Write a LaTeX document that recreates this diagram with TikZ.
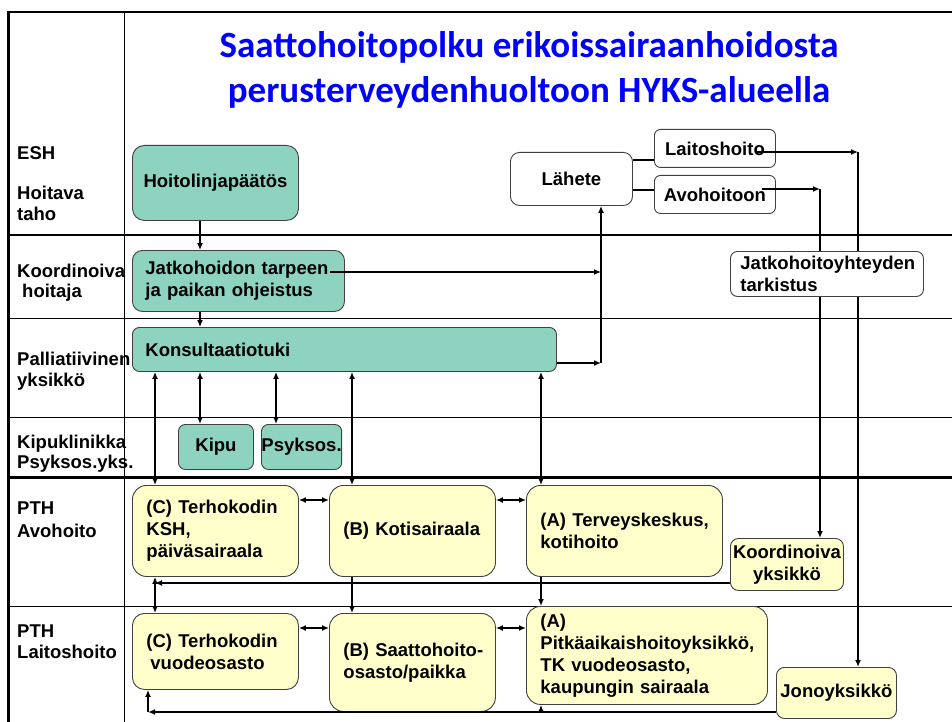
\documentclass[tikz,border=0pt]{standalone}
\usepackage{fontspec}
\setmainfont{Liberation Sans}
\newfontfamily\titlefont{Carlito}
\usetikzlibrary{arrows.meta,calc}
\definecolor{tealfill}{RGB}{141,211,192}
\definecolor{yelfill}{RGB}{255,255,204}
\definecolor{boxline}{RGB}{64,64,64}
\definecolor{titleblue}{RGB}{0,0,255}
\newcommand{\myfont}{\fontsize{18.5}{22}\selectfont\bfseries\hyphenpenalty=10000\relax\exhyphenpenalty=10000\relax}
\begin{document}
\begin{tikzpicture}[x=1pt,y=-1pt,
  every node/.style={font=\myfont},
  box/.style={draw=boxline, line width=0.9pt, inner sep=0pt, anchor=north west},
  tealbox/.style={box, fill=tealfill},
  yelbox/.style={box, fill=yelfill},
  whitebox/.style={box, fill=white},
  wh/.style 2 args={minimum width=#1pt, minimum height=#2pt},
  lab/.style={anchor=base west, inner sep=0pt},
  ttl/.style={anchor=base, inner sep=0pt, text=titleblue, font=\titlefont\fontsize{37}{44}\selectfont\bfseries},
  arr/.style={-{Latex[length=7pt,width=6pt]}, line width=1.6pt},
  darr/.style={{Latex[length=7pt,width=6pt]}-{Latex[length=7pt,width=6pt]}, line width=1.6pt},
  plain/.style={line width=1.6pt},
  thinrule/.style={line width=1pt},
]
\useasboundingbox (0,0) rectangle (952,722);
\fill[white] (0,0) rectangle (952,722);

% frame and lane rules
\draw[line width=2pt] (8,12) -- (952,12);
\draw[line width=3pt] (8,11) -- (8,722);
\draw[thinrule] (124,12) -- (124,722);
\draw[line width=2pt] (8,235) -- (952,235);
\draw[thinrule] (8,318) -- (952,318);
\draw[thinrule] (8,417) -- (952,417);
\draw[line width=3pt] (8,477) -- (952,477);
\draw[thinrule] (8,606) -- (952,606);

% title
\node[ttl] (t1) at (529,58) {Saattohoitopolku erikoissairaanhoidosta};
\node[ttl] (t2) at (529,103) {perusterveydenhuoltoon HYKS-alueella};

% lane labels
\node[lab] (l1) at (17,160) {ESH};
\node[lab] (l2) at (17,199) {Hoitava};
\node[lab] (l3) at (17,220) {taho};
\node[lab] (l4) at (17,277) {Koordinoiva};
\node[lab] (l5) at (22,297) {hoitaja};
\node[lab] (l6) at (17,365) {Palliatiivinen};
\node[lab] (l7) at (17,386) {yksikkö};
\node[lab] (l8) at (17,448) {Kipuklinikka};
\node[lab] (l9) at (17,468) {Psyksos.yks.};
\node[lab] (l10) at (17,514) {PTH};
\node[lab] (l11) at (17,537) {Avohoito};
\node[lab] (l12) at (17,637) {PTH};
\node[lab] (l13) at (17,658) {Laitoshoito};

% boxes
\node[tealbox, wh={166}{75}, rounded corners=12pt] (hoito) at (132,145) {Hoitolinjapäätös};
\node[whitebox, wh={122}{53}, rounded corners=9pt] (lahete) at (510,152) {Lähete};
\node[whitebox, wh={121}{38}, rounded corners=6pt] (laitos) at (654,129) {Laitoshoito};
\node[whitebox, wh={121}{38}, rounded corners=6pt] (avo) at (654,175) {Avohoitoon};
\node[tealbox, wh={212}{61}, rounded corners=10pt, inner xsep=13pt, text width=186pt, align=left] (jatko) at (132,250) {\mbox{Jatkohoidon tarpeen}\\\mbox{ja paikan ohjeistus}};
\node[tealbox, wh={424}{44}, rounded corners=7pt, inner xsep=13pt, text width=398pt, align=left] (konsul) at (132,327) {Konsultaatiotuki};
\node[tealbox, wh={75}{45}, rounded corners=7pt] (kipu) at (178,424) {Kipu};
\node[tealbox, wh={76}{45}, rounded corners=7pt] (psyk) at (261,424) {Psyksos.};
\node[yelbox, wh={166}{91}, rounded corners=14pt, inner xsep=14pt, text width=138pt, align=left] (cksh) at (132,485) {\mbox{(C) Terhokodin}\\\mbox{KSH,}\\\mbox{päiväsairaala}};
\node[yelbox, wh={166}{91}, rounded corners=14pt, inner xsep=14pt, text width=138pt, align=left] (bkoti) at (329,485) {\mbox{(B) Kotisairaala}};
\node[yelbox, wh={196}{91}, rounded corners=14pt, inner xsep=14pt, text width=168pt, align=left] (aterv) at (526,485) {\mbox{(A) Terveyskeskus,}\\\mbox{kotihoito}};
\node[yelbox, wh={113}{52}, rounded corners=8pt, align=center] (koord) at (730,538) {Koordinoiva\\yksikkö};
\node[yelbox, wh={166}{76}, rounded corners=12pt, inner xsep=14pt, text width=138pt, align=left] (cvuo) at (132,613) {\mbox{(C) Terhokodin}\\\mbox{\hspace*{4pt}vuodeosasto}};
\node[yelbox, wh={166}{98}, rounded corners=14pt, inner xsep=14pt, text width=138pt, align=left] (bsaat) at (329,613) {\mbox{(B) Saattohoito-}\\\mbox{osasto/paikka}};
\node[yelbox, wh={241}{98}, rounded corners=14pt, inner xsep=14pt, text width=213pt, align=left] (apitk) at (526,606) {\mbox{(A)}\\\mbox{Pitkäaikaishoitoyksikkö,}\\\mbox{TK vuodeosasto,}\\\mbox{kaupungin sairaala}};
\node[yelbox, wh={120}{51}, rounded corners=8pt] (jono) at (776,667) {Jonoyksikkö};

% helper coordinates
\coordinate (c148) at (148,0);
\coordinate (c155) at (155,0);
\coordinate (c200) at (200,0);
\coordinate (c276) at (276,0);
\coordinate (c352) at (352,0);
\coordinate (c541) at (541,0);
\coordinate (c601) at (601,0);
\coordinate (c820) at (820,0);
\coordinate (c858) at (858,0);
\coordinate (y160) at (0,160);
\coordinate (y190) at (0,190);
\coordinate (y363) at (0,363);
\coordinate (r1) at (0,500);
\coordinate (r2) at (0,628);
\coordinate (y583) at (0,583);
\coordinate (y712) at (0,712);
\coordinate (jEnd) at (330,272);
\coordinate (lStart) at (757,152);
\coordinate (aStart) at (762,189);

% connectors
\draw[arr] (hoito.south -| c200) -- (jatko.north -| c200);
\draw[arr] (jatko.south -| c200) -- (konsul.north -| c200);
\draw[arr] (jEnd) -- (c601 |- jEnd);
\draw[arr] (konsul.east |- y363) -- (c601 |- y363);
\draw[arr] (c601 |- y363) -- (lahete.south -| c601);
\draw[plain] (lahete.east |- y160) -- (laitos.west |- y160);
\draw[plain] (lahete.east |- y190) -- (avo.west |- y190);
\draw[arr] (lStart) -- (c858 |- lStart);
\draw[arr] (c858 |- lStart) -- (jono.north -| c858);
\draw[arr] (aStart) -- (c820 |- aStart);
\draw[arr] (c820 |- aStart) -- (koord.north -| c820);

\draw[darr] (konsul.south -| c200) -- (kipu.north -| c200);
\draw[darr] (konsul.south -| c276) -- (psyk.north -| c276);
\draw[darr] (konsul.south -| c155) -- (cksh.north -| c155);
\draw[darr] (konsul.south -| c352) -- (bkoti.north -| c352);
\draw[darr] (konsul.south -| c541) -- (aterv.north -| c541);

\draw[darr] (cksh.east |- r1) -- (bkoti.west |- r1);
\draw[darr] (bkoti.east |- r1) -- (aterv.west |- r1);
\draw[darr] (cvuo.east |- r2) -- (bsaat.west |- r2);
\draw[darr] (bsaat.east |- r2) -- (apitk.west |- r2);

\draw[darr] (cksh.south -| c155) -- (cvuo.north -| c155);
\draw[arr] (bkoti.south -| c352) -- (bsaat.north -| c352);
\draw[arr] (aterv.south -| c541) -- (apitk.north -| c541);
\draw[arr] (koord.west |- y583) -- (c155 |- y583);

\draw[arr] (jono.west |- y712) -- (c148 |- y712);
\draw[arr] (c148 |- y712) -- (cvuo.south -| c148);
\draw[arr] (c541 |- y712) -- (apitk.south -| c541);

% box drawn over the vertical connectors
\node[whitebox, wh={193}{45}, rounded corners=7pt, inner xsep=10pt, text width=173pt, align=left] (jyht) at (730,251) {Jatkohoitoyhteyden\\tarkistus};
\end{tikzpicture}
\end{document}
